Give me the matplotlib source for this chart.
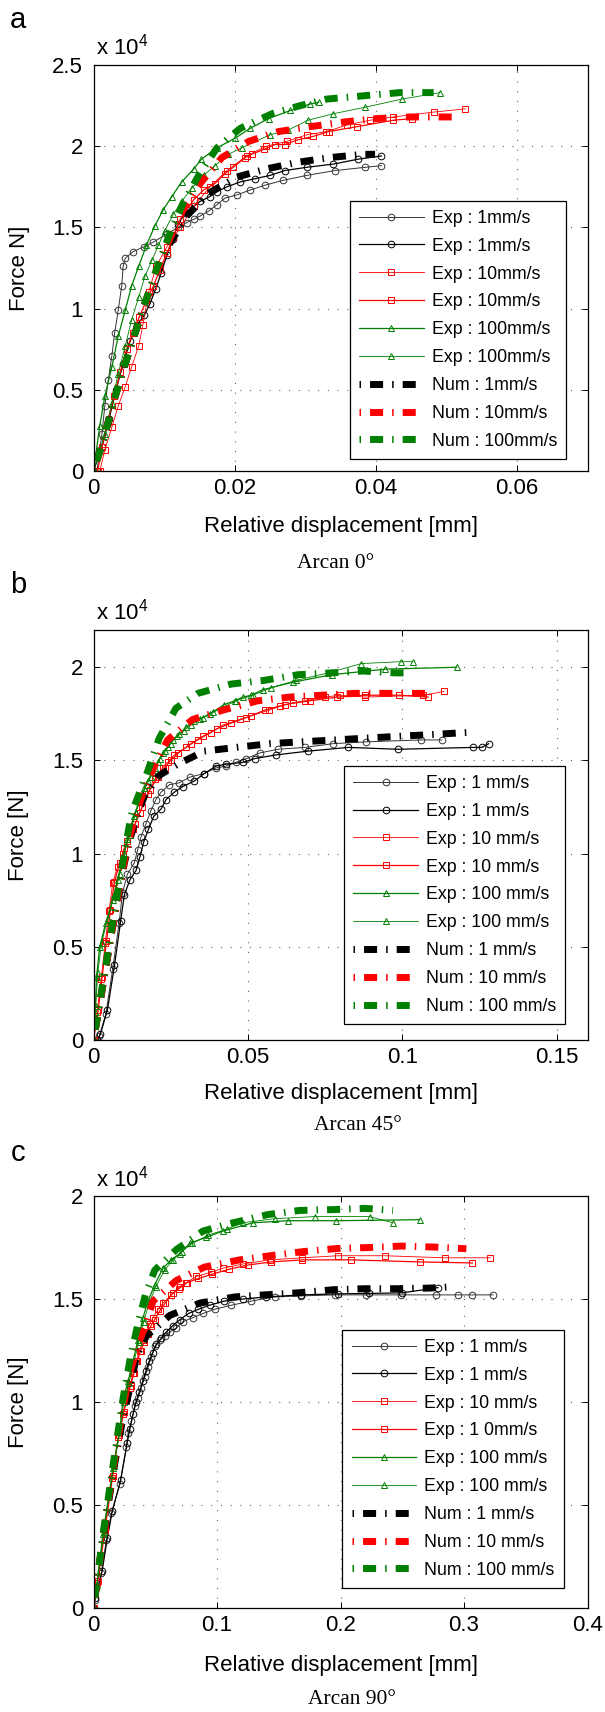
import matplotlib
matplotlib.use('Agg')
import matplotlib.pyplot as plt
from matplotlib.ticker import FuncFormatter

plt.rcParams['font.family'] = 'Liberation Sans'
plt.rcParams['mathtext.fontset'] = 'custom'
plt.rcParams['mathtext.rm'] = 'Liberation Sans'
plt.rcParams['lines.scale_dashes'] = False

# ---------------- data (displacement in mm, force in x 10^4 N) ----------------

# panel a : Arcan 0
a_exp1_1_x = [0.0005, 0.0012, 0.0016, 0.0021, 0.0026, 0.0030, 0.0035, 0.0040, 0.0042, 0.0045, 0.0056, 0.0071, 0.0085, 0.0104, 0.0120, 0.0132, 0.0142, 0.0151, 0.0163, 0.0175, 0.0186, 0.0203, 0.0222, 0.0243, 0.0269, 0.0302, 0.0342, 0.0385, 0.0408]
a_exp1_1_y = [0.00, 0.23, 0.40, 0.56, 0.71, 0.85, 0.99, 1.14, 1.26, 1.31, 1.35, 1.38, 1.41, 1.46, 1.50, 1.53, 1.55, 1.57, 1.60, 1.64, 1.68, 1.70, 1.73, 1.76, 1.79, 1.82, 1.85, 1.87, 1.88]
a_exp1_2_x = [0.0000, 0.0012, 0.0022, 0.0032, 0.0042, 0.0052, 0.0062, 0.0072, 0.0080, 0.0088, 0.0096, 0.0104, 0.0112, 0.0120, 0.0130, 0.0142, 0.0151, 0.0165, 0.0175, 0.0189, 0.0208, 0.0229, 0.0250, 0.0271, 0.0302, 0.0340, 0.0375, 0.0408]
a_exp1_2_y = [0.00, 0.15, 0.32, 0.50, 0.66, 0.80, 0.90, 0.96, 1.03, 1.12, 1.22, 1.33, 1.43, 1.52, 1.59, 1.63, 1.66, 1.69, 1.72, 1.75, 1.78, 1.80, 1.82, 1.85, 1.87, 1.89, 1.92, 1.94]
a_exp10_1_x = [0.0009, 0.0016, 0.0026, 0.0035, 0.0045, 0.0054, 0.0064, 0.0070, 0.0078, 0.0089, 0.0104, 0.0123, 0.0142, 0.0165, 0.0189, 0.0217, 0.0245, 0.0274, 0.0302, 0.0330, 0.0359, 0.0392, 0.0425, 0.0482, 0.0527]
a_exp10_1_y = [0.00, 0.13, 0.27, 0.40, 0.52, 0.64, 0.77, 0.90, 1.10, 1.26, 1.38, 1.50, 1.63, 1.75, 1.85, 1.94, 2.00, 2.03, 2.07, 2.09, 2.13, 2.16, 2.18, 2.21, 2.23]
a_exp10_2_x = [0.0006, 0.0012, 0.0020, 0.0029, 0.0038, 0.0047, 0.0056, 0.0065, 0.0075, 0.0085, 0.0094, 0.0104, 0.0113, 0.0123, 0.0132, 0.0142, 0.0156, 0.0172, 0.0186, 0.0198, 0.0215, 0.0224, 0.0241, 0.0257, 0.0271, 0.0290, 0.0311, 0.0333, 0.0373, 0.0425, 0.0452]
a_exp10_2_y = [0.00, 0.15, 0.30, 0.46, 0.61, 0.75, 0.85, 0.95, 1.05, 1.14, 1.24, 1.34, 1.44, 1.55, 1.61, 1.67, 1.73, 1.77, 1.83, 1.87, 1.93, 1.95, 1.98, 2.01, 2.01, 2.04, 2.06, 2.09, 2.12, 2.16, 2.17]
a_exp100_1_x = [0.0000, 0.0009, 0.0016, 0.0026, 0.0035, 0.0045, 0.0054, 0.0064, 0.0075, 0.0087, 0.0099, 0.0111, 0.0125, 0.0142, 0.0153, 0.0175, 0.0201, 0.0222, 0.0248, 0.0279, 0.0307, 0.0319]
a_exp100_1_y = [0.00, 0.28, 0.46, 0.64, 0.83, 0.99, 1.14, 1.26, 1.39, 1.51, 1.61, 1.69, 1.78, 1.86, 1.92, 1.99, 2.05, 2.11, 2.17, 2.22, 2.26, 2.27]
a_exp100_2_x = [0.0000, 0.0016, 0.0026, 0.0035, 0.0045, 0.0054, 0.0064, 0.0073, 0.0083, 0.0092, 0.0101, 0.0113, 0.0125, 0.0139, 0.0156, 0.0172, 0.0191, 0.0210, 0.0250, 0.0276, 0.0304, 0.0340, 0.0385, 0.0437, 0.0491]
a_exp100_2_y = [0.00, 0.23, 0.42, 0.60, 0.77, 0.93, 1.07, 1.20, 1.30, 1.39, 1.48, 1.58, 1.66, 1.74, 1.82, 1.88, 1.95, 1.99, 2.07, 2.10, 2.16, 2.20, 2.24, 2.29, 2.33]
a_num1_x = [0, 0.0014, 0.0028, 0.0042, 0.0056, 0.0071, 0.0089, 0.0108, 0.0132, 0.0163, 0.0203, 0.0245, 0.0288, 0.0335, 0.0382, 0.0399]
a_num1_y = [0, 0.19, 0.42, 0.62, 0.81, 1.01, 1.22, 1.40, 1.57, 1.71, 1.81, 1.86, 1.90, 1.93, 1.95, 1.95]
a_num10_x = [0, 0.0014, 0.0028, 0.0042, 0.0056, 0.0071, 0.0089, 0.0106, 0.0127, 0.0151, 0.0182, 0.0220, 0.0262, 0.0307, 0.0357, 0.0401, 0.0449, 0.0515]
a_num10_y = [0, 0.19, 0.42, 0.62, 0.81, 1.01, 1.22, 1.41, 1.61, 1.77, 1.93, 2.03, 2.09, 2.12, 2.15, 2.17, 2.18, 2.18]
a_num100_x = [0, 0.0014, 0.0028, 0.0042, 0.0056, 0.0071, 0.0089, 0.0108, 0.0127, 0.0149, 0.0175, 0.0208, 0.0253, 0.0293, 0.0330, 0.0382, 0.0434, 0.0482]
a_num100_y = [0, 0.19, 0.42, 0.62, 0.81, 1.01, 1.24, 1.46, 1.65, 1.82, 1.99, 2.11, 2.20, 2.25, 2.29, 2.31, 2.33, 2.33]

# panel b : Arcan 45
b_exp1_1_x = [0.0010, 0.0019, 0.0040, 0.0062, 0.0083, 0.0094, 0.0110, 0.0132, 0.0143, 0.0154, 0.0170, 0.0186, 0.0202, 0.0219, 0.0246, 0.0278, 0.0311, 0.0359, 0.0397, 0.0430, 0.0462, 0.0495, 0.0538, 0.0597, 0.0684, 0.0776, 0.0884, 0.1060, 0.1128]
b_exp1_1_y = [0.00, 0.02, 0.14, 0.38, 0.63, 0.79, 0.89, 0.95, 1.02, 1.09, 1.16, 1.23, 1.29, 1.33, 1.37, 1.38, 1.41, 1.43, 1.46, 1.47, 1.49, 1.51, 1.54, 1.56, 1.57, 1.59, 1.60, 1.61, 1.61]
b_exp1_2_x = [0.0012, 0.0022, 0.0045, 0.0068, 0.0088, 0.0100, 0.0118, 0.0138, 0.0150, 0.0162, 0.0178, 0.0195, 0.0219, 0.0235, 0.0262, 0.0289, 0.0327, 0.0359, 0.0397, 0.0430, 0.0484, 0.0522, 0.0592, 0.0695, 0.0825, 0.0987, 0.1230, 0.1258, 0.1280]
b_exp1_2_y = [0.00, 0.03, 0.16, 0.40, 0.64, 0.78, 0.86, 0.91, 0.98, 1.06, 1.13, 1.20, 1.24, 1.29, 1.33, 1.36, 1.39, 1.43, 1.47, 1.48, 1.49, 1.51, 1.53, 1.55, 1.57, 1.56, 1.57, 1.57, 1.59]
b_exp10_1_x = [0, 0.0012, 0.0025, 0.0038, 0.0050, 0.0062, 0.0078, 0.0094, 0.0110, 0.0127, 0.0150, 0.0175, 0.0200, 0.0224, 0.0240, 0.0262, 0.0300, 0.0338, 0.0381, 0.0419, 0.0473, 0.0511, 0.0570, 0.0603, 0.0646, 0.0684, 0.0749, 0.0798, 0.0879, 0.1068, 0.1135]
b_exp10_1_y = [0, 0.15, 0.33, 0.52, 0.69, 0.84, 0.93, 1.00, 1.07, 1.13, 1.22, 1.32, 1.40, 1.46, 1.49, 1.53, 1.57, 1.61, 1.65, 1.69, 1.72, 1.74, 1.77, 1.79, 1.81, 1.82, 1.84, 1.85, 1.84, 1.85, 1.87]
b_exp10_2_x = [0, 0.0015, 0.0028, 0.0042, 0.0055, 0.0068, 0.0085, 0.0100, 0.0118, 0.0135, 0.0158, 0.0182, 0.0208, 0.0230, 0.0250, 0.0275, 0.0315, 0.0355, 0.0400, 0.0445, 0.0495, 0.0555, 0.0620, 0.0700, 0.0790, 0.0880, 0.0990, 0.1084]
b_exp10_2_y = [0, 0.16, 0.34, 0.53, 0.70, 0.85, 0.95, 1.03, 1.10, 1.16, 1.25, 1.34, 1.41, 1.46, 1.50, 1.54, 1.59, 1.63, 1.67, 1.70, 1.73, 1.77, 1.80, 1.82, 1.84, 1.85, 1.85, 1.84]
b_exp100_1_x = [0, 0.0005, 0.0010, 0.0020, 0.0040, 0.0062, 0.0078, 0.0095, 0.0110, 0.0130, 0.0150, 0.0165, 0.0175, 0.0192, 0.0208, 0.0224, 0.0240, 0.0256, 0.0278, 0.0300, 0.0327, 0.0354, 0.0386, 0.0424, 0.0457, 0.0484, 0.0511, 0.0549, 0.0646, 0.0771, 0.0944, 0.1176]
b_exp100_1_y = [0, 0.15, 0.34, 0.50, 0.63, 0.75, 0.86, 0.98, 1.08, 1.20, 1.29, 1.35, 1.39, 1.44, 1.49, 1.54, 1.57, 1.61, 1.64, 1.68, 1.71, 1.73, 1.76, 1.80, 1.82, 1.84, 1.85, 1.88, 1.92, 1.96, 1.99, 2.00]
b_exp100_2_x = [0, 0.0007, 0.0014, 0.0026, 0.0046, 0.0068, 0.0085, 0.0100, 0.0117, 0.0137, 0.0157, 0.0172, 0.0185, 0.0200, 0.0216, 0.0232, 0.0250, 0.0270, 0.0292, 0.0316, 0.0345, 0.0378, 0.0415, 0.0460, 0.0516, 0.0576, 0.0657, 0.0760, 0.0868, 0.0995, 0.1034]
b_exp100_2_y = [0, 0.18, 0.36, 0.52, 0.65, 0.78, 0.89, 1.00, 1.10, 1.22, 1.31, 1.37, 1.41, 1.46, 1.51, 1.55, 1.59, 1.63, 1.66, 1.69, 1.72, 1.75, 1.78, 1.82, 1.85, 1.89, 1.93, 1.97, 2.02, 2.03, 2.03]
b_num1_x = [0, 0.0020, 0.0040, 0.0060, 0.0080, 0.0100, 0.0120, 0.0145, 0.0165, 0.0213, 0.0273, 0.0359, 0.0462, 0.0570, 0.0673, 0.0781, 0.0884, 0.0992, 0.1106, 0.1209, 0.1230]
b_num1_y = [0, 0.19, 0.39, 0.59, 0.78, 0.95, 1.09, 1.22, 1.31, 1.42, 1.48, 1.55, 1.57, 1.59, 1.60, 1.61, 1.62, 1.63, 1.64, 1.65, 1.65]
b_num10_x = [0, 0.0020, 0.0040, 0.0060, 0.0080, 0.0100, 0.0120, 0.0145, 0.0165, 0.0200, 0.0240, 0.0321, 0.0419, 0.0532, 0.0635, 0.0738, 0.0846, 0.0949, 0.1057, 0.1080]
b_num10_y = [0, 0.19, 0.39, 0.59, 0.78, 0.96, 1.11, 1.25, 1.35, 1.48, 1.61, 1.72, 1.77, 1.82, 1.84, 1.85, 1.86, 1.86, 1.86, 1.86]
b_num100_x = [0, 0.0020, 0.0040, 0.0060, 0.0080, 0.0100, 0.0121, 0.0138, 0.0175, 0.0213, 0.0267, 0.0338, 0.0446, 0.0554, 0.0662, 0.0771, 0.0873, 0.0976, 0.1030]
b_num100_y = [0, 0.20, 0.40, 0.61, 0.81, 1.00, 1.20, 1.28, 1.44, 1.62, 1.78, 1.86, 1.91, 1.93, 1.96, 1.97, 1.98, 1.97, 1.97]

# panel c : Arcan 90
c_exp1_1_x = [0, 0.0010, 0.0064, 0.0104, 0.0145, 0.0212, 0.0266, 0.0280, 0.0307, 0.0334, 0.0360, 0.0388, 0.0415, 0.0442, 0.0469, 0.0496, 0.0537, 0.0577, 0.0617, 0.0671, 0.0725, 0.0806, 0.0887, 0.0981, 0.1116, 0.1278, 0.1467, 0.1683, 0.1953, 0.2210, 0.2493, 0.2776, 0.2952, 0.3068, 0.3235]
c_exp1_1_y = [0, 0.04, 0.17, 0.33, 0.46, 0.60, 0.78, 0.85, 0.91, 0.98, 1.02, 1.07, 1.12, 1.17, 1.22, 1.27, 1.30, 1.32, 1.34, 1.36, 1.39, 1.41, 1.43, 1.45, 1.47, 1.49, 1.51, 1.515, 1.52, 1.52, 1.52, 1.52, 1.52, 1.52, 1.52]
c_exp1_2_x = [0, 0.0015, 0.0070, 0.0112, 0.0152, 0.0220, 0.0272, 0.0295, 0.0320, 0.0345, 0.0372, 0.0398, 0.0425, 0.0452, 0.0480, 0.0510, 0.0550, 0.0590, 0.0640, 0.0700, 0.0770, 0.0850, 0.0940, 0.1060, 0.1210, 0.1400, 0.1680, 0.1980, 0.2230, 0.2500, 0.2790]
c_exp1_2_y = [0, 0.05, 0.18, 0.34, 0.47, 0.62, 0.80, 0.87, 0.94, 1.00, 1.05, 1.10, 1.15, 1.20, 1.24, 1.28, 1.31, 1.34, 1.37, 1.40, 1.43, 1.45, 1.47, 1.49, 1.50, 1.51, 1.52, 1.525, 1.527, 1.53, 1.555]
c_exp10_1_x = [0, 0.0030, 0.0090, 0.0150, 0.0200, 0.0239, 0.0266, 0.0293, 0.0320, 0.0347, 0.0374, 0.0401, 0.0428, 0.0455, 0.0483, 0.0523, 0.0563, 0.0645, 0.0698, 0.0752, 0.0834, 0.0954, 0.1050, 0.1210, 0.1427, 0.1691, 0.1981, 0.2358, 0.2844, 0.3214]
c_exp10_1_y = [0, 0.12, 0.38, 0.63, 0.83, 0.94, 1.01, 1.07, 1.14, 1.20, 1.25, 1.30, 1.34, 1.38, 1.41, 1.45, 1.48, 1.53, 1.56, 1.58, 1.61, 1.63, 1.65, 1.67, 1.69, 1.70, 1.71, 1.71, 1.70, 1.70]
c_exp10_2_x = [0, 0.0035, 0.0095, 0.0155, 0.0205, 0.0245, 0.0272, 0.0300, 0.0328, 0.0355, 0.0382, 0.0410, 0.0438, 0.0465, 0.0495, 0.0535, 0.0580, 0.0630, 0.0690, 0.0760, 0.0850, 0.0960, 0.1100, 0.1250, 0.1440, 0.1691, 0.2088, 0.2641, 0.3068]
c_exp10_2_y = [0, 0.13, 0.39, 0.64, 0.84, 0.95, 1.02, 1.08, 1.14, 1.20, 1.25, 1.29, 1.33, 1.37, 1.40, 1.44, 1.48, 1.52, 1.55, 1.58, 1.60, 1.62, 1.645, 1.665, 1.68, 1.69, 1.69, 1.68, 1.675]
c_exp100_1_x = [0, 0.0023, 0.0077, 0.0158, 0.0212, 0.0239, 0.0280, 0.0320, 0.0360, 0.0401, 0.0442, 0.0496, 0.0563, 0.0630, 0.0698, 0.0779, 0.0914, 0.1049, 0.1292, 0.1575, 0.1967, 0.2640]
c_exp100_1_y = [0, 0.10, 0.36, 0.68, 0.86, 1.01, 1.10, 1.20, 1.30, 1.41, 1.49, 1.57, 1.65, 1.69, 1.72, 1.77, 1.80, 1.83, 1.87, 1.88, 1.88, 1.885]
c_exp100_2_x = [0, 0.0028, 0.0082, 0.0163, 0.0218, 0.0245, 0.0286, 0.0326, 0.0366, 0.0407, 0.0450, 0.0505, 0.0575, 0.0645, 0.0715, 0.0800, 0.0930, 0.1080, 0.1210, 0.1467, 0.1790, 0.2236, 0.2425]
c_exp100_2_y = [0, 0.11, 0.37, 0.69, 0.87, 1.00, 1.09, 1.19, 1.29, 1.39, 1.48, 1.56, 1.64, 1.69, 1.73, 1.77, 1.81, 1.84, 1.87, 1.89, 1.90, 1.90, 1.87]
c_num1_x = [0, 0.008, 0.016, 0.024, 0.030, 0.0347, 0.0428, 0.0617, 0.0860, 0.1143, 0.1386, 0.1656, 0.1940, 0.2196, 0.2452, 0.2723, 0.2857]
c_num1_y = [0, 0.35, 0.66, 0.93, 1.08, 1.22, 1.32, 1.42, 1.48, 1.51, 1.52, 1.53, 1.545, 1.55, 1.55, 1.553, 1.558]
c_num10_x = [0, 0.008, 0.016, 0.024, 0.030, 0.036, 0.0415, 0.0482, 0.0671, 0.0899, 0.1185, 0.1428, 0.1697, 0.1967, 0.2236, 0.2493, 0.2763, 0.3019]
c_num10_y = [0, 0.36, 0.68, 0.98, 1.15, 1.28, 1.36, 1.49, 1.59, 1.655, 1.69, 1.71, 1.73, 1.745, 1.75, 1.757, 1.752, 1.744]
c_num100_x = [0, 0.008, 0.016, 0.024, 0.030, 0.036, 0.042, 0.0496, 0.0671, 0.0887, 0.1130, 0.1413, 0.1670, 0.1940, 0.2200, 0.2425]
c_num100_y = [0, 0.37, 0.70, 1.02, 1.22, 1.38, 1.52, 1.64, 1.74, 1.83, 1.87, 1.91, 1.93, 1.934, 1.94, 1.93]

labels_a = ['Exp : 1mm/s', 'Exp : 1mm/s', 'Exp : 10mm/s', 'Exp : 10mm/s', 'Exp : 100mm/s', 'Exp : 100mm/s',
            'Num : 1mm/s', 'Num : 10mm/s', 'Num : 100mm/s']
labels_b = ['Exp : 1 mm/s', 'Exp : 1 mm/s', 'Exp : 10 mm/s', 'Exp : 10 mm/s', 'Exp : 100 mm/s', 'Exp : 100 mm/s',
            'Num : 1 mm/s', 'Num : 10 mm/s', 'Num : 100 mm/s']
labels_c = ['Exp : 1 mm/s', 'Exp : 1 mm/s', 'Exp : 10 mm/s', 'Exp : 1 0mm/s', 'Exp : 100 mm/s', 'Exp : 100 mm/s',
            'Num : 1 mm/s', 'Num : 10 mm/s', 'Num : 100 mm/s']

# ---------------- styles ----------------
RED = '#ff0000'
GREEN = '#008000'
NUM_DASH = (0, (1.1, 6.5, 9.4, 6.5))
GRID_DOT = (0, (0.8, 6.2))

W, H = 605, 1712


def frac_x(px):
    return px / W


def frac_y(px):
    return 1 - px / H


def draw_panel(top, bottom, exp, num, labels, xlim, xticks, ylim, yticks, ylabel,
               xlabel_gap, leg_box, letter, letter_y, caption, cap_xy):
    ax = fig.add_axes([frac_x(93.5), frac_y(bottom), 494 / W, (bottom - top) / H])

    # experimental curves: thin lines with open markers
    styles = [('#333333', 'o', 4.8, 0.7), ('black', 'o', 4.8, 0.9),
              (RED, 's', 3.8, 0.6), (RED, 's', 3.8, 0.9),
              (GREEN, '^', 4.6, 0.9), (GREEN, '^', 4.6, 0.6)]
    for (x, y), (c, m, ms, lw), lab in zip(exp, styles, labels[:6]):
        ax.plot(x, y, color=c, marker=m, markersize=ms, markerfacecolor='none',
                markeredgewidth=0.7, linewidth=lw, label=lab)

    # numerical curves: thick dash-dot
    for (x, y), c, lab in zip(num, ['black', RED, GREEN], labels[6:]):
        ax.plot(x, y, color=c, linewidth=5, linestyle=NUM_DASH, label=lab)

    ax.set_xlim(*xlim)
    ax.set_ylim(*ylim)
    ax.set_xticks(xticks)
    ax.set_yticks(yticks)
    fmt = FuncFormatter(lambda v, p: '{:g}'.format(round(v, 6)))
    ax.xaxis.set_major_formatter(fmt)
    ax.yaxis.set_major_formatter(fmt)
    ax.tick_params(direction='in', top=True, right=True, length=4, width=0.7, labelsize=16)
    ax.tick_params(axis='x', pad=5)
    ax.tick_params(axis='y', pad=7.5)
    for s in ax.spines.values():
        s.set_linewidth(0.9)

    ax.set_axisbelow(True)
    ax.grid(True, linestyle=GRID_DOT, color='#666666', linewidth=0.8)

    h = bottom - top
    ax.set_xlabel('Relative displacement [mm]', fontsize=16)
    ax.xaxis.label.set_va('center')
    ax.xaxis.set_label_coords(0.5, -xlabel_gap / h)
    ax.set_ylabel(ylabel, fontsize=16)
    ax.yaxis.label.set_va('center')
    ax.yaxis.set_label_coords((19 - 93.5) / 494, 0.5)

    ax.annotate('x 10$^{4}$', xy=(0, 1), xycoords='axes fraction', xytext=(2, 10),
                textcoords='offset pixels', fontsize=16, ha='left', va='baseline')

    leg = ax.legend(loc='lower right', bbox_to_anchor=leg_box, borderaxespad=0,
                    fontsize=12.8, handlelength=3.65, handletextpad=0.44,
                    labelspacing=0.61, borderpad=0.52, fancybox=False,
                    framealpha=1, edgecolor='black')
    leg.get_frame().set_linewidth(0.9)

    fig.text(frac_x(18), frac_y(letter_y), letter, fontsize=21, ha='center', va='center')
    fig.text(frac_x(cap_xy[0]), frac_y(cap_xy[1]), caption, family='Liberation Serif',
             fontsize=15.5, ha='center', va='center')
    return ax


fig = plt.figure(figsize=(W / 100, H / 100), dpi=100)

draw_panel(65, 471,
           [(a_exp1_1_x, a_exp1_1_y), (a_exp1_2_x, a_exp1_2_y),
            (a_exp10_1_x, a_exp10_1_y), (a_exp10_2_x, a_exp10_2_y),
            (a_exp100_1_x, a_exp100_1_y), (a_exp100_2_x, a_exp100_2_y)],
           [(a_num1_x, a_num1_y), (a_num10_x, a_num10_y), (a_num100_x, a_num100_y)],
           labels_a, (0, 0.07), [0, 0.02, 0.04, 0.06], (0, 2.5), [0, 0.5, 1, 1.5, 2, 2.5],
           'Force N]', 55.7, (0.957, 0.030), 'a', 20, 'Arcan 0\u00b0', (336, 564))

draw_panel(630, 1040,
           [(b_exp1_1_x, b_exp1_1_y), (b_exp1_2_x, b_exp1_2_y),
            (b_exp10_1_x, b_exp10_1_y), (b_exp10_2_x, b_exp10_2_y),
            (b_exp100_1_x, b_exp100_1_y), (b_exp100_2_x, b_exp100_2_y)],
           [(b_num1_x, b_num1_y), (b_num10_x, b_num10_y), (b_num100_x, b_num100_y)],
           labels_b, (0, 0.16), [0, 0.05, 0.1, 0.15], (0, 2.2), [0, 0.5, 1, 1.5, 2],
           'Force [N]', 54, (0.955, 0.039), 'b', 585, 'Arcan 45\u00b0', (358, 1126))

draw_panel(1196, 1608,
           [(c_exp1_1_x, c_exp1_1_y), (c_exp1_2_x, c_exp1_2_y),
            (c_exp10_1_x, c_exp10_1_y), (c_exp10_2_x, c_exp10_2_y),
            (c_exp100_1_x, c_exp100_1_y), (c_exp100_2_x, c_exp100_2_y)],
           [(c_num1_x, c_num1_y), (c_num10_x, c_num10_y), (c_num100_x, c_num100_y)],
           labels_c, (0, 0.4), [0, 0.1, 0.2, 0.3, 0.4], (0, 2), [0, 0.5, 1, 1.5, 2],
           'Force [N]', 58, (0.952, 0.049), 'c', 1153, 'Arcan 90\u00b0', (352, 1700))

fig.savefig('out.png', dpi=100)
